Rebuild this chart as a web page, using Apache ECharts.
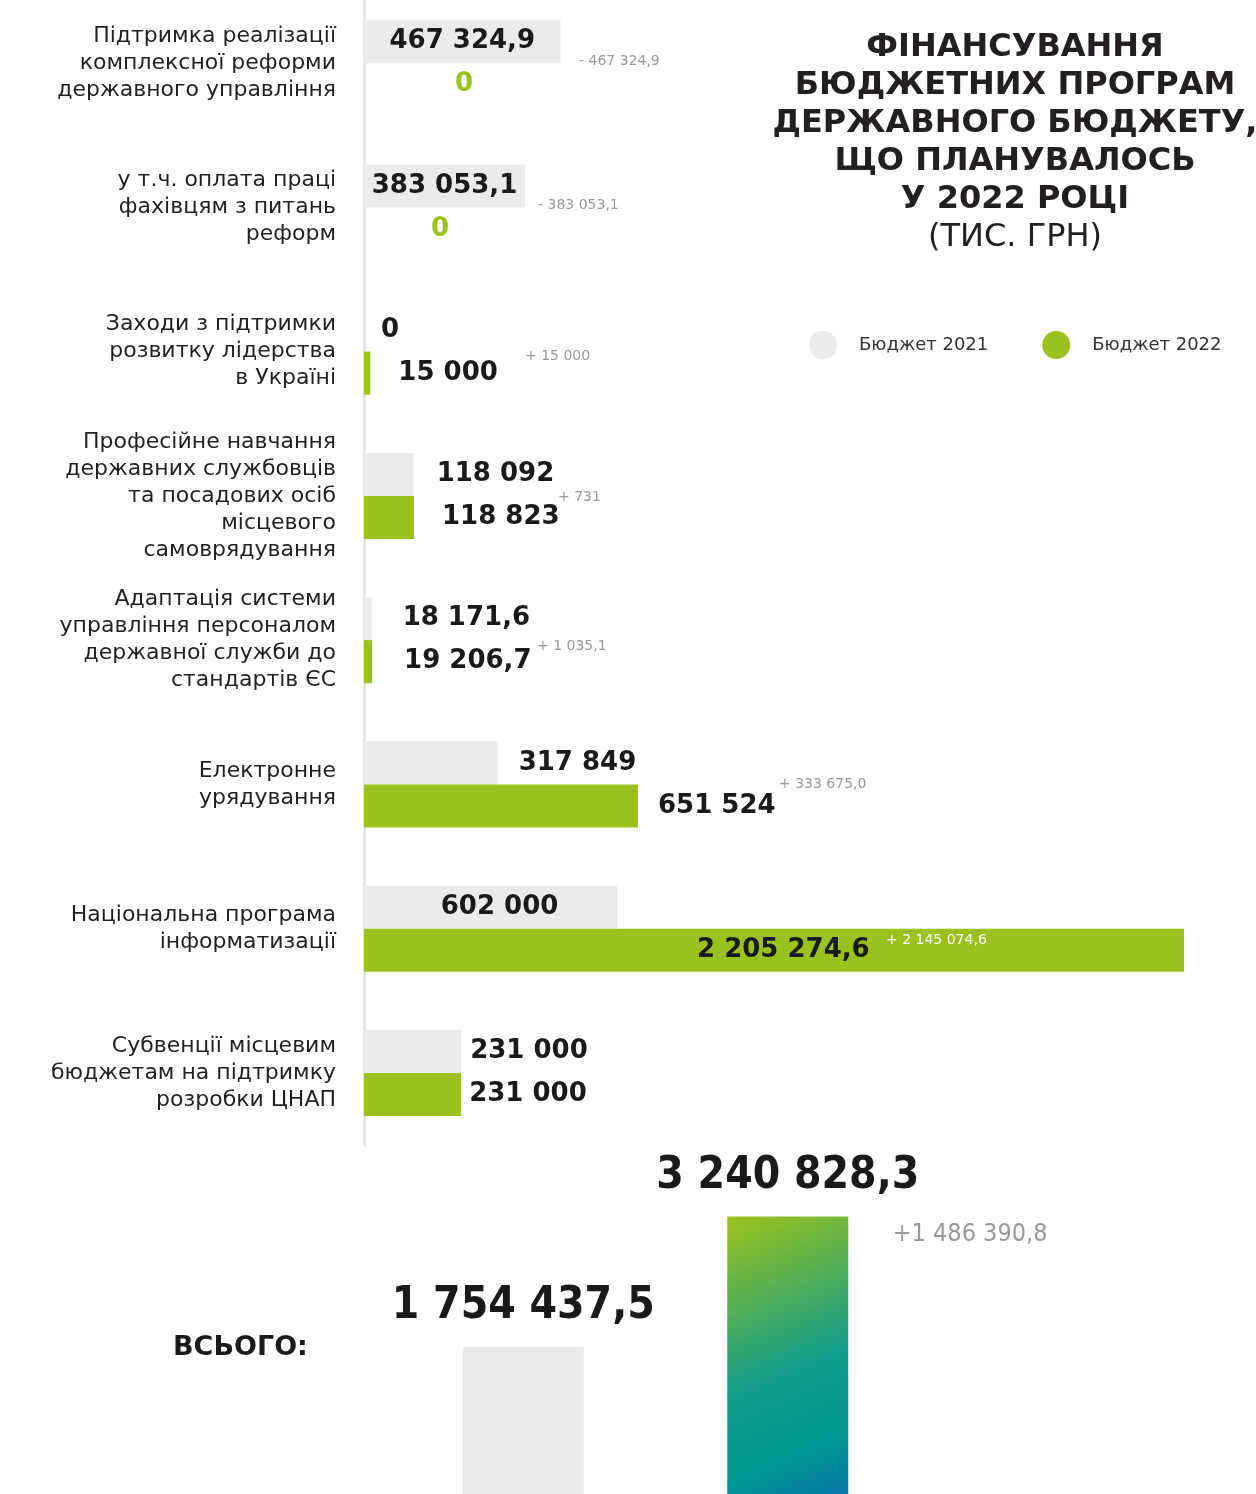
<!DOCTYPE html>
<html>
<head>
<meta charset="utf-8">
<script src="https://cdn.jsdelivr.net/npm/echarts@6/dist/echarts.min.js"></script>
<style>
  html, body { margin: 0; padding: 0; background: #fff; }
  #main { width: 1256px; height: 1494px; }
</style>
</head>
<body>
<div id="main"></div>
<script>
// програми (категорії)
var categories = [
    'Підтримка реалізації\nкомплексної реформи\nдержавного управління',
    'у т.ч. оплата праці\nфахівцям з питань\nреформ',
    'Заходи з підтримки\nрозвитку лідерства\nв Україні',
    'Професійне навчання\nдержавних службовців\nта посадових осіб\nмісцевого\nсамоврядування',
    'Адаптація системи\nуправління персоналом\nдержавної служби до\nстандартів ЄС',
    'Електронне\nурядування',
    'Національна програма\nінформатизації',
    'Субвенції місцевим\nбюджетам на підтримку\nрозробки ЦНАП'
];
var budget2021 = [467324.9, 383053.1, 0, 118092, 18171.6, 317849, 602000, 231000];
var budget2022 = [0, 0, 15000, 118823, 19206.7, 651524, 2205274.6, 231000];
// різниця, як підписано на малюнку
var changeLabels = ['- 467 324,9', '- 383 053,1', '+ 15 000', '+ 731', '+ 1 035,1', '+ 333 675,0', '+ 2 145 074,6', ''];

var totalNames = ['Бюджет 2021', 'Бюджет 2022'];
var totals = [1754437.5, 3240828.3];
var totalChange = '+1 486 390,8';

// стилі підписів (окремо від даних)
var label2021 = [
    { position: 'inside' },
    { position: 'inside' },
    { position: 'right', distance: 17 },
    { position: 'right', distance: 23 },
    { position: 'right', distance: 31 },
    { position: 'right', distance: 21 },
    { position: 'inside', offset: [9, 0] },
    { position: 'right', distance: 9 }
];
var label2022 = [
    { position: 'right', distance: 91, color: '#9bc11f' },
    { position: 'right', distance: 67, color: '#9bc11f' },
    { position: 'right', distance: 28 },
    { position: 'right', distance: 28 },
    { position: 'right', distance: 32 },
    { position: 'right', distance: 20 },
    { position: 'insideLeft', distance: 333 },
    { position: 'right', distance: 8 }
];
var changeOffsets = [[215, -2], [174, -2], [161, 5], [194, 1], [173, 6], [415, 0], [522, 12], [0, 0]];
var changeColors = ['#999', '#999', '#999', '#999', '#999', '#999', '#fff', '#999'];

var GRAY = '#ebebeb';
var GREEN = '#9bc11f';
var FONT = 'DejaVu Sans';

function numberFormat(v) {
    var s = Number.isInteger(v) ? v.toFixed(0) : v.toFixed(1);
    var parts = s.split('.');
    var int = parts[0].replace(/\B(?=(\d{3})+(?!\d))/g, ' ');
    return parts.length > 1 ? int + ',' + parts[1] : int;
}

var myChart = echarts.init(document.getElementById('main'));

var option = {
    backgroundColor: '#fff',
    animation: false,
    title: [{
        text: 'ФІНАНСУВАННЯ\nБЮДЖЕТНИХ ПРОГРАМ\nДЕРЖАВНОГО БЮДЖЕТУ,\nЩО ПЛАНУВАЛОСЬ\nУ 2022 РОЦІ',
        subtext: '(ТИС. ГРН)',
        left: 1015,
        top: 29,
        textAlign: 'center',
        itemGap: 0,
        padding: 0,
        textStyle: { fontFamily: FONT, fontSize: 32, fontWeight: 'bold', color: '#231f20', lineHeight: 38 },
        subtextStyle: { fontFamily: FONT, fontSize: 32, fontWeight: 'normal', color: '#231f20', lineHeight: 38 }
    }, {
        text: 'ВСЬОГО:',
        left: 173,
        top: 1334,
        padding: 0,
        textStyle: { fontFamily: FONT, fontSize: 27, fontWeight: 'bold', color: '#1a1a1a' }
    }],
    legend: {
        data: ['Бюджет 2021', 'Бюджет 2022'],
        left: 809,
        top: 331,
        padding: 0,
        icon: 'circle',
        itemWidth: 28,
        itemHeight: 28,
        itemGap: 54,
        textStyle: { fontFamily: FONT, fontSize: 18, color: '#333', padding: [0, 0, 0, 17] }
    },
    grid: [{
        left: 364,
        right: 72,
        top: -9,
        height: 1154,
        outerBoundsMode: 'none'
    }, {
        left: 391,
        width: 529,
        top: 1150,
        height: 350,
        outerBoundsMode: 'none'
    }],
    xAxis: [{
        type: 'value',
        gridIndex: 0,
        min: 0,
        max: 1950000,
        show: false
    }, {
        type: 'category',
        gridIndex: 1,
        data: totalNames,
        show: false
    }],
    yAxis: [{
        type: 'category',
        gridIndex: 0,
        data: categories,
        inverse: true,
        axisLine: { show: true, lineStyle: { color: '#e6e6e6', width: 3 } },
        axisTick: { show: false },
        splitLine: { show: false },
        axisLabel: {
            margin: 28,
            fontFamily: FONT,
            fontSize: 22,
            lineHeight: 27,
            color: '#231f20',
            align: 'right'
        }
    }, {
        type: 'value',
        gridIndex: 1,
        min: 0,
        max: 4000000,
        show: false
    }],
    series: [{
        name: 'Бюджет 2021',
        type: 'bar',
        xAxisIndex: 0,
        yAxisIndex: 0,
        barWidth: 43,
        barGap: '0%',
        itemStyle: { color: GRAY },
        label: {
            show: true,
            fontFamily: FONT,
            fontSize: 26,
            fontWeight: 'bold',
            color: '#1a1a1a',
            formatter: function (p) { return numberFormat(p.value); }
        },
        data: budget2021.map(function (v, i) { return { value: v, label: label2021[i] }; })
    }, {
        name: 'Бюджет 2022',
        type: 'bar',
        xAxisIndex: 0,
        yAxisIndex: 0,
        barWidth: 43,
        barGap: '0%',
        itemStyle: { color: GREEN },
        label: {
            show: true,
            fontFamily: FONT,
            fontSize: 26,
            fontWeight: 'bold',
            color: '#1a1a1a',
            formatter: function (p) { return numberFormat(p.value); }
        },
        data: budget2022.map(function (v, i) { return { value: v, label: label2022[i] }; })
    }, {
        // підписи різниці
        name: 'change',
        type: 'custom',
        xAxisIndex: 0,
        yAxisIndex: 0,
        z: 5,
        silent: true,
        data: changeLabels.map(function (t, i) { return [0, i]; }),
        renderItem: function (params, api) {
            var i = params.dataIndex;
            var p = api.coord([0, api.value(1)]);
            return {
                type: 'text',
                x: p[0] + changeOffsets[i][0],
                y: p[1] + changeOffsets[i][1],
                style: {
                    text: changeLabels[i],
                    fill: changeColors[i],
                    fontFamily: FONT,
                    fontSize: 14,
                    align: 'left',
                    verticalAlign: 'middle'
                }
            };
        }
    }, {
        name: 'Всього',
        type: 'bar',
        xAxisIndex: 1,
        yAxisIndex: 1,
        barWidth: 121,
        label: {
            show: true,
            position: 'top',
            distance: 18,
            fontFamily: 'DejaVu Sans Condensed',
            fontSize: 44,
            fontWeight: 'bold',
            color: '#1a1a1a',
            formatter: function (p) { return numberFormat(p.value); }
        },
        data: totals.map(function (v, i) {
            return {
                value: v,
                itemStyle: {
                    color: i === 0 ? GRAY : {
                        type: 'linear', x: 0, y: 0, x2: 1, y2: 1,
                        colorStops: [
                            { offset: 0, color: '#9dc21c' },
                            { offset: 0.55, color: '#109c8c' },
                            { offset: 0.8, color: '#00968f' },
                            { offset: 1, color: '#0a77ad' }
                        ]
                    }
                }
            };
        })
    }, {
        name: 'totalChange',
        type: 'custom',
        xAxisIndex: 1,
        yAxisIndex: 1,
        silent: true,
        data: [[1, totals[1]]],
        renderItem: function (params, api) {
            var p = api.coord([api.value(0), api.value(1)]);
            return {
                type: 'text',
                x: p[0] + 105,
                y: p[1] + 18,
                style: {
                    text: totalChange,
                    fill: '#999',
                    fontFamily: 'DejaVu Sans Condensed',
                    fontSize: 25,
                    align: 'left',
                    verticalAlign: 'middle'
                }
            };
        }
    }]
};
myChart.setOption(option);
</script>
</body>
</html>
